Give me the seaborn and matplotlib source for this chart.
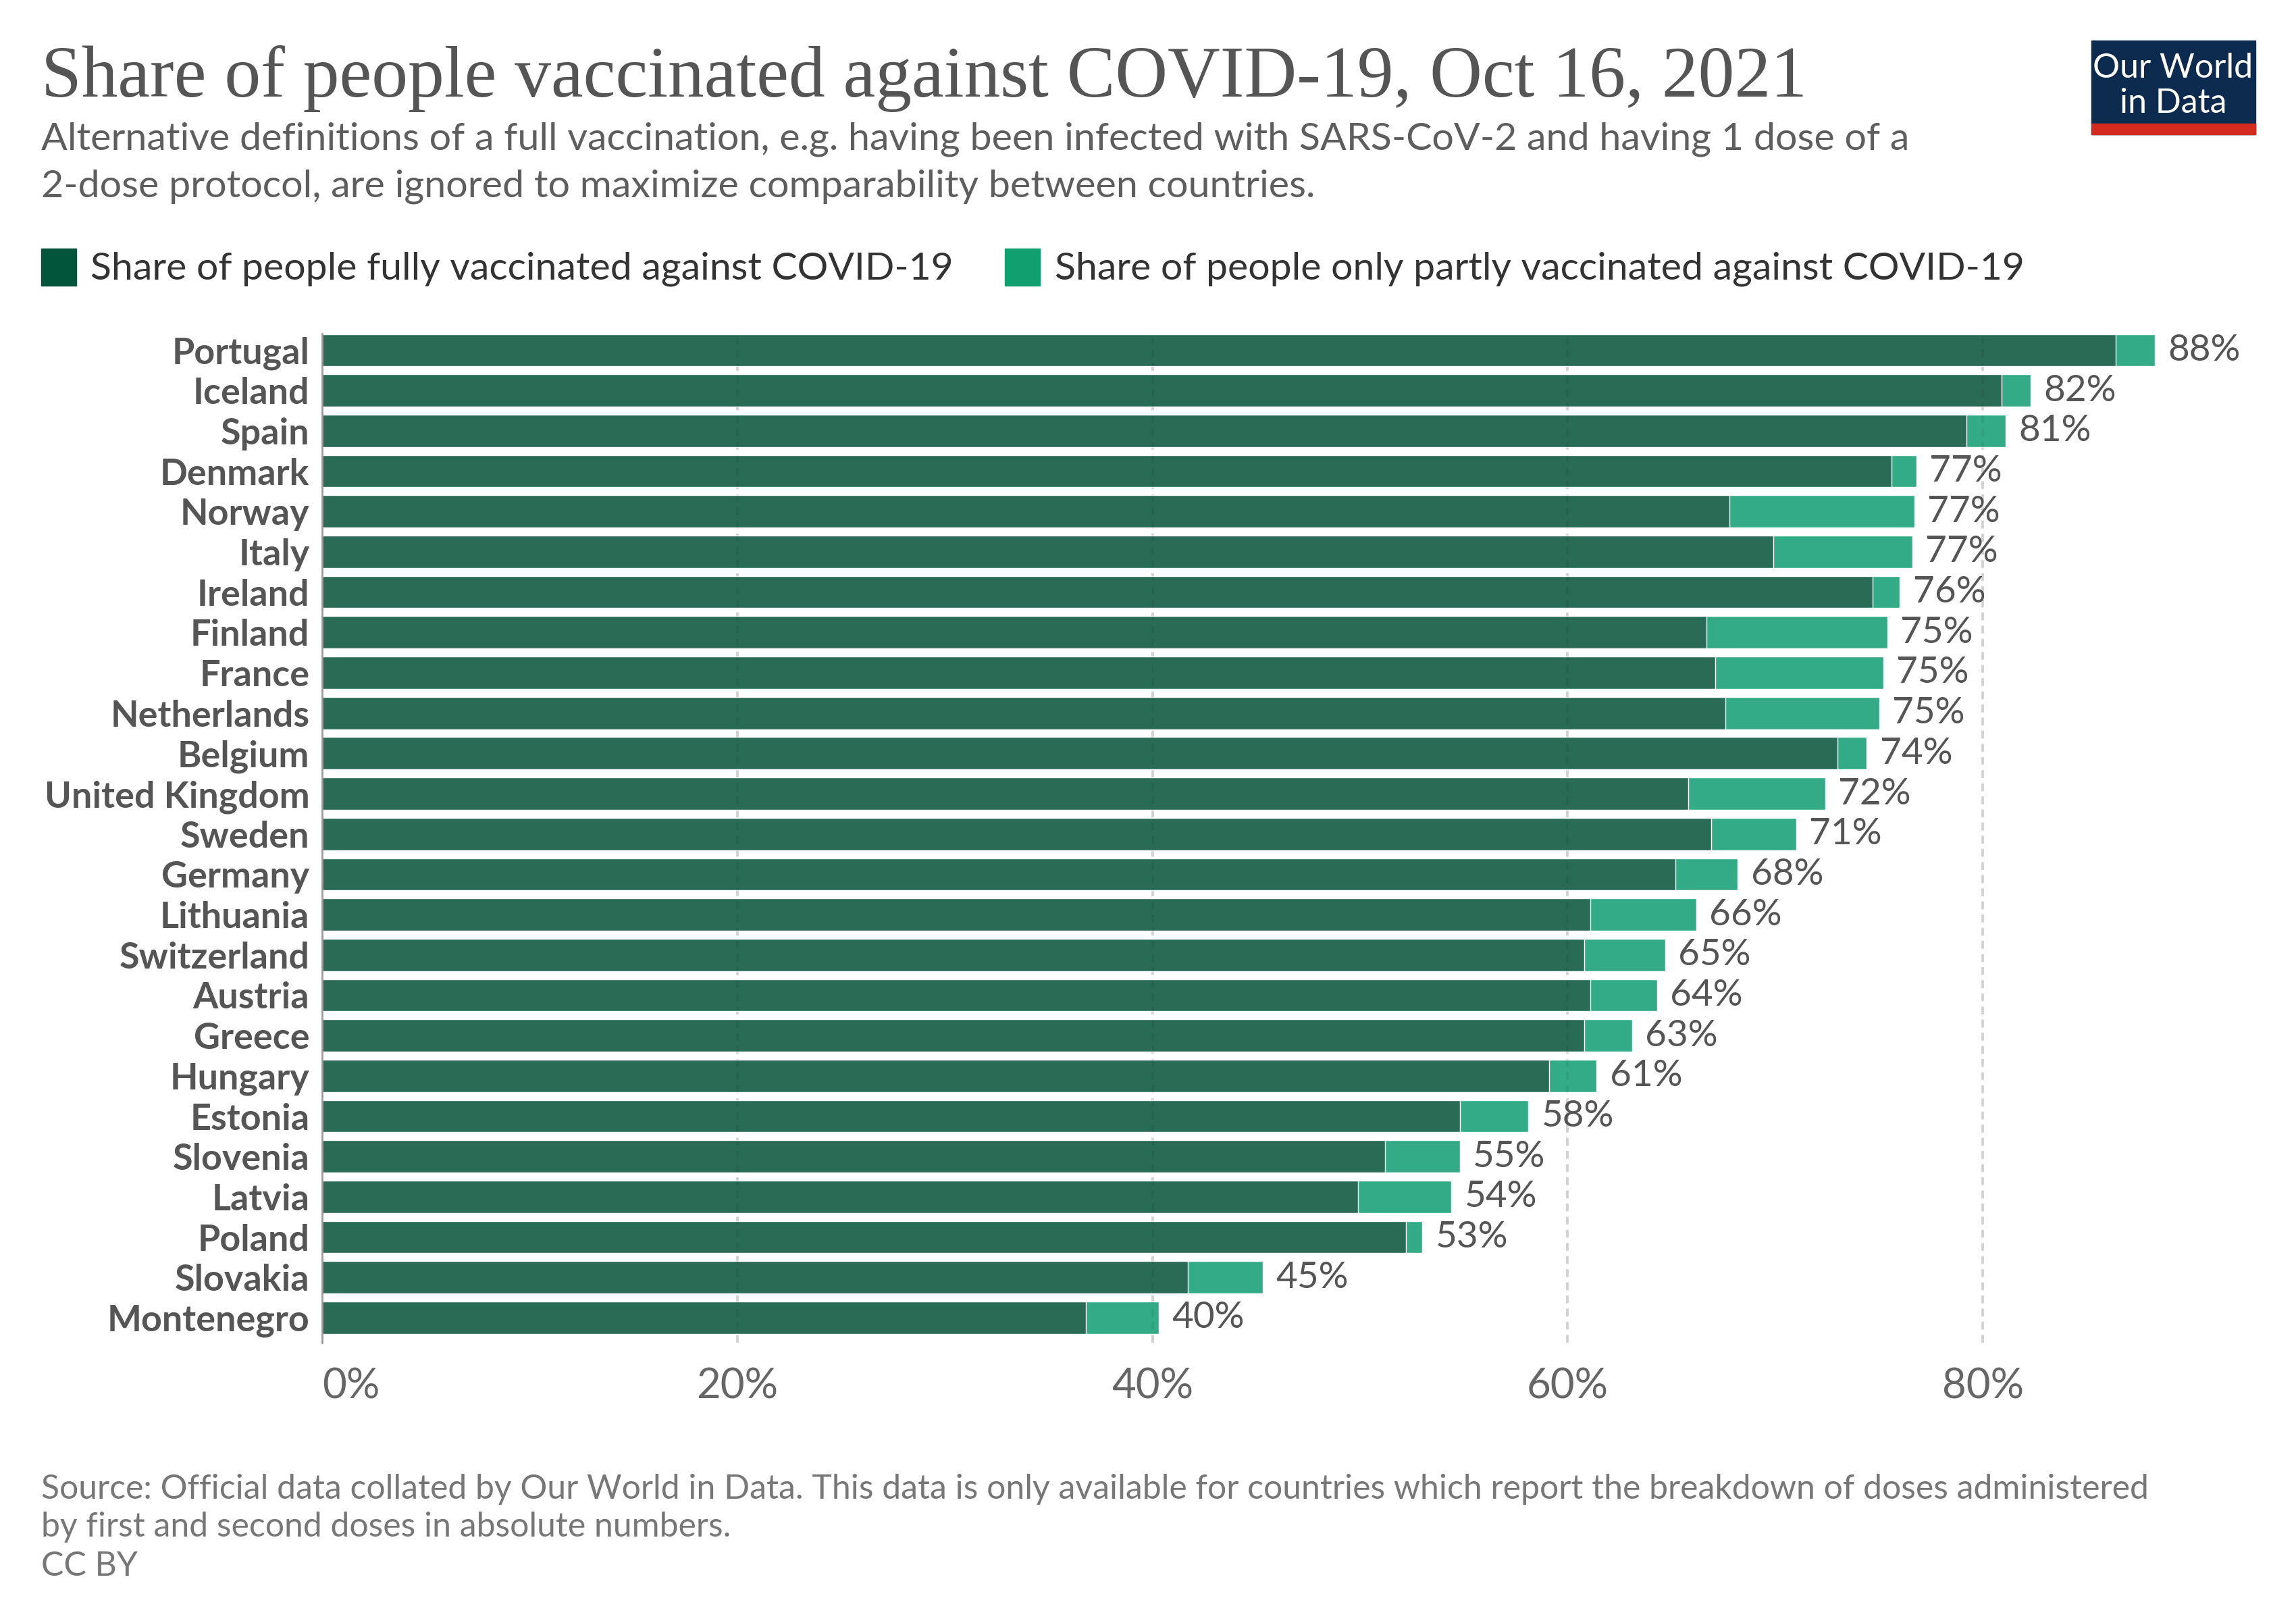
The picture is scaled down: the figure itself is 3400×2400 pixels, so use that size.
import matplotlib
matplotlib.use("Agg")
import matplotlib.pyplot as plt
import seaborn as sns
import pandas as pd
from matplotlib.patches import Rectangle

countries = ["Portugal", "Iceland", "Spain", "Denmark", "Norway", "Italy", "Ireland",
             "Finland", "France", "Netherlands", "Belgium", "United Kingdom", "Sweden",
             "Germany", "Lithuania", "Switzerland", "Austria", "Greece", "Hungary",
             "Estonia", "Slovenia", "Latvia", "Poland", "Slovakia", "Montenegro"]
fully = [86.4, 80.9, 79.2, 75.6, 67.8, 69.9, 74.7, 66.7, 67.1, 67.6, 73.0, 65.8, 66.9,
         65.2, 61.1, 60.8, 61.1, 60.8, 59.1, 54.8, 51.2, 49.9, 52.2, 41.7, 36.8]
partly = [1.9, 1.4, 1.9, 1.2, 8.9, 6.7, 1.3, 8.7, 8.1, 7.4, 1.4, 6.6, 4.1,
          3.0, 5.1, 3.9, 3.2, 2.3, 2.3, 3.3, 3.6, 4.5, 0.8, 3.6, 3.5]
xticks = [0, 20, 40, 60, 80]
xtick_labels = ["0%", "20%", "40%", "60%", "80%"]
legend_labels = ["Share of people fully vaccinated against COVID-19",
                 "Share of people only partly vaccinated against COVID-19"]

df = pd.DataFrame({"country": countries, "fully": fully, "partly": partly})
df["total"] = df["fully"] + df["partly"]

DARK_BAR = "#2a6b55"
LIGHT_BAR = "#32ab86"
DARK_LEG = "#02553b"
LIGHT_LEG = "#10a070"
TXT = "#555555"

sns.set_theme(style="white")
plt.rcParams["font.family"] = ["Lato", "DejaVu Sans"]

W, H = 3400, 2400
fig = plt.figure(figsize=(W / 100, H / 100), dpi=100)
ax_left, ax_right, ax_top, ax_bot = 477, 477 + 90 * 30.74, 494, 1988
ax = fig.add_axes([ax_left / W, 1 - ax_bot / H, (ax_right - ax_left) / W, (ax_bot - ax_top) / H])

sns.barplot(data=df, x="total", y="country", color=LIGHT_BAR, saturation=1, width=0.8,
            ax=ax, orient="h", zorder=2)
sns.barplot(data=df, x="fully", y="country", color=DARK_BAR, saturation=1, width=0.8,
            ax=ax, orient="h", zorder=3)

ax.set_xlim(0, 90)
ax.set_ylim(len(countries) - 1 + 0.62, -0.41)
ax.set_xlabel("")
ax.set_ylabel("")
for s in ["top", "right", "bottom"]:
    ax.spines[s].set_visible(False)
ax.spines["left"].set_color("#9a9a9a")
ax.spines["left"].set_linewidth(2)
ax.spines["left"].set_zorder(5)

for xv in xticks[1:]:
    ax.axvline(xv, color="#e0e0e0", lw=2.8, ls=(0, (3, 2)), zorder=1)
    ax.axvline(xv, color="black", lw=2.8, ls=(0, (3, 2)), zorder=4, alpha=0.06)

ax.set_xticks(xticks)
ax.set_xticklabels(xtick_labels)
ax.tick_params(axis="x", length=0, pad=26, labelsize=44.5, labelcolor="#666666")
ax.get_xticklabels()[0].set_horizontalalignment("left")
ax.tick_params(axis="y", length=0, pad=13.5, labelsize=38.8, labelcolor=TXT)
for lab in ax.get_yticklabels():
    lab.set_fontweight("bold")

for i, t in enumerate(df["total"]):
    ax.annotate(f"{round(t)}%", xy=(t, i), xytext=(14, 0), textcoords="offset points",
                va="center", ha="left", fontsize=39.5, color=TXT)

renderer = fig.canvas.get_renderer()

def fit(txt, target_px):
    bb = txt.get_window_extent(renderer=renderer)
    txt.set_fontsize(txt.get_fontsize() * target_px / bb.width)

def fy(px):
    return 1 - px / H

title = fig.text(61 / W, fy(143), "Share of people vaccinated against COVID-19, Oct 16, 2021",
                 family=["Liberation Serif", "DejaVu Serif"], fontsize=80, color="#555555",
                 va="baseline", ha="left")
fit(title, 2613)

sub1 = fig.text(61 / W, fy(222), "Alternative definitions of a full vaccination, e.g. having been infected with SARS-CoV-2 and having 1 dose of a",
                fontsize=40, color="#5e5e5e", va="baseline", ha="left")
fit(sub1, 2760)
fig.text(61 / W, fy(291), "2-dose protocol, are ignored to maximize comparability between countries.",
         fontsize=sub1.get_fontsize(), color="#5e5e5e", va="baseline", ha="left")

# legend
for (x0, col, lab, tx, tw) in [(61, DARK_LEG, legend_labels[0], 134, 1276),
                               (1488, LIGHT_LEG, legend_labels[1], 1562, 1434)]:
    fig.patches.append(Rectangle((x0 / W, fy(423)), 52 / W, 55 / H, transform=fig.transFigure,
                                 color=col, zorder=3))
    t = fig.text(tx / W, fy(413), lab, fontsize=40, color="#333333", va="baseline", ha="left")
    fit(t, tw)

# footer
f1 = fig.text(61 / W, fy(2219), "Source: Official data collated by Our World in Data. This data is only available for countries which report the breakdown of doses administered",
              fontsize=34, color="#777777", va="baseline", ha="left")
fit(f1, 3122)
fs = f1.get_fontsize()
fig.text(61 / W, fy(2275), "by first and second doses in absolute numbers.", fontsize=fs,
         color="#777777", va="baseline", ha="left")
fig.text(61 / W, fy(2333), "CC BY", fontsize=fs, color="#777777", va="baseline", ha="left")

# logo
fig.patches.append(Rectangle((3097 / W, fy(199)), 243 / W, 139 / H, transform=fig.transFigure,
                             color="#0d2a4f", zorder=3))
fig.patches.append(Rectangle((3097 / W, fy(199)), 243 / W, 16 / H, transform=fig.transFigure,
                             color="#d42b21", zorder=4))
fig.text(3218 / W, fy(115), "Our World", fontsize=36, color="white", ha="center", va="baseline", zorder=5)
fig.text(3218 / W, fy(167), "in Data", fontsize=36, color="white", ha="center", va="baseline", zorder=5)

fig.savefig("out.png", dpi=100, facecolor="white")
